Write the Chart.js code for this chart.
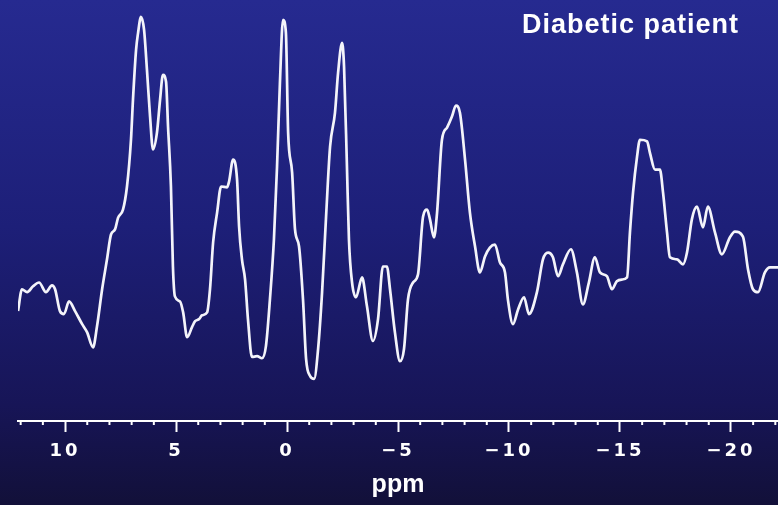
<!DOCTYPE html>
<html>
<head>
<meta charset="utf-8">
<script src="https://cdn.jsdelivr.net/npm/chart.js@4.4.0/dist/chart.umd.min.js"></script>
<style>
  html, body { margin: 0; padding: 0; }
  body {
    width: 778px; height: 505px; overflow: hidden;
    background: linear-gradient(to bottom, #262a90 0%, #1d1f78 45%, #171557 80%, #121039 100%);
  }
  canvas { display: block; }
</style>
</head>
<body>
<canvas id="spectrum" width="778" height="505"></canvas>
<script>
// chemical shift (ppm) from left to right
var ppm = [
  12.12, 11.94, 11.71, 11.44, 11.17, 10.86, 10.59, 10.45, 10.23, 10.05,
  9.82, 9.55, 9.23, 9.01, 8.74, 8.56, 8.33, 8.11, 7.93, 7.75,
  7.61, 7.39, 7.21, 7.03, 6.94, 6.80, 6.71, 6.58, 6.44, 6.31,
  6.17, 6.04, 5.86, 5.72, 5.59, 5.45, 5.36, 5.23, 5.14, 5.05,
  4.82, 4.68, 4.50, 4.28, 4.14, 3.96, 3.83, 3.60, 3.47, 3.33,
  3.15, 2.97, 2.70, 2.61, 2.43, 2.25, 2.16, 2.03, 1.89, 1.76,
  1.58, 1.35, 1.13, 0.95, 0.77, 0.59, 0.45, 0.32, 0.18, 0.05,
  -0.05, -0.23, -0.36, -0.54, -0.72, -0.86, -1.04, -1.22, -1.40, -1.58,
  -1.76, -1.94, -2.16, -2.30, -2.48, -2.57, -2.70, -2.79, -2.93, -3.11,
  -3.38, -3.60, -3.87, -4.10, -4.32, -4.50, -4.64, -4.86, -5.09, -5.27,
  -5.45, -5.68, -5.90, -6.13, -6.31, -6.44, -6.62, -6.76, -6.98, -7.21,
  -7.43, -7.61, -7.79, -8.02, -8.24, -8.47, -8.69, -8.92, -9.14, -9.37,
  -9.59, -9.82, -9.95, -10.18, -10.41, -10.68, -10.90, -11.26, -11.53, -11.76,
  -11.98, -12.21, -12.43, -12.79, -13.06, -13.33, -13.60, -13.87, -14.10, -14.41,
  -14.64, -14.86, -15.09, -15.32, -15.45, -15.59, -15.77, -15.90, -16.22, -16.35,
  -16.58, -16.80, -16.94, -17.12, -17.25, -17.57, -17.84, -18.02, -18.24, -18.47,
  -18.74, -18.96, -19.28, -19.59, -19.95, -20.18, -20.54, -20.77, -20.99, -21.22,
  -21.53, -21.76, -22.12
];

// signal intensity (arbitrary units)
var intensity = [
  26.1, 31.3, 30.6, 32.0, 32.9, 30.6, 32.2, 31.3, 26.1, 25.4,
  28.4, 26.1, 23.0, 21.1, 17.5, 22.5, 31.3, 38.4, 44.3, 45.5,
  48.3, 50.2, 55.7, 66.8, 76.3, 88.2, 92.2, 96.0, 92.9, 83.4,
  72.3, 64.5, 68.5, 76.3, 82.2, 80.6, 69.9, 55.7, 36.7, 29.6,
  28.4, 25.8, 19.9, 22.3, 23.7, 24.2, 25.1, 25.8, 31.3, 42.4,
  49.5, 55.7, 55.5, 56.9, 62.1, 57.3, 46.2, 38.4, 33.6, 24.2,
  15.2, 15.4, 14.9, 17.8, 28.9, 43.1, 60.4, 80.3, 95.3, 92.2,
  68.5, 59.0, 45.5, 41.5, 28.9, 14.7, 10.7, 10.0, 17.1, 30.6,
  48.6, 65.2, 73.2, 82.7, 89.8, 84.1, 60.4, 43.1, 32.9, 29.4,
  34.1, 27.3, 19.0, 24.2, 36.7, 36.7, 31.3, 21.1, 14.2, 17.1,
  28.9, 32.9, 34.8, 48.6, 50.2, 47.9, 43.6, 49.5, 66.8, 69.7,
  72.3, 74.9, 73.2, 62.1, 49.5, 41.5, 35.3, 39.1, 41.2, 41.9,
  37.7, 35.3, 28.9, 23.0, 26.5, 29.4, 25.4, 30.6, 38.4, 40.0,
  38.9, 34.4, 37.2, 40.8, 35.3, 27.7, 32.9, 38.9, 35.3, 34.4,
  31.3, 33.2, 33.6, 34.1, 44.8, 54.3, 62.8, 66.8, 66.4, 63.7,
  59.7, 59.7, 54.3, 44.8, 38.9, 38.4, 37.2, 40.0, 47.9, 50.9,
  46.0, 50.9, 44.8, 39.6, 43.6, 45.0, 43.8, 36.0, 31.3, 30.6,
  35.3, 36.5, 36.5
];

var tickValues = [10, 5, 0, -5, -10, -15, -20];
var axisLabel = 'ppm';
var chartTitle = 'Diabetic patient';

var points = ppm.map(function(p, i) {
  return { x: p, y: intensity[i] };
});

var extras = {
  id: 'extras',
  beforeDraw: function(chart) {
    // the tick numbers are widely spaced in the original
    chart.ctx.letterSpacing = '3px';
  },
  afterDraw: function(chart) {
    var ctx = chart.ctx;
    var xs = chart.scales.x;
    ctx.save();
    ctx.letterSpacing = '0px';
    // minor ticks every 1 ppm
    ctx.strokeStyle = '#ffffff';
    ctx.lineWidth = 2;
    for (var v = -22; v <= 12; v++) {
      if (v % 5 === 0) continue;
      var px = xs.getPixelForValue(v);
      ctx.beginPath();
      ctx.moveTo(px, xs.top);
      ctx.lineTo(px, xs.top + 4);
      ctx.stroke();
    }
    ctx.fillStyle = '#ffffff';
    ctx.textBaseline = 'alphabetic';
    // axis name
    ctx.font = 'bold 25px "Liberation Sans", Arial, sans-serif';
    ctx.textAlign = 'center';
    ctx.fillText(axisLabel, (xs.left + xs.right) / 2, 492);
    // title, top right
    ctx.letterSpacing = '1px';
    ctx.font = 'bold 27px "Liberation Sans", Arial, sans-serif';
    ctx.textAlign = 'right';
    ctx.fillText(chartTitle, 739, 33);
    ctx.restore();
  }
};

new Chart(document.getElementById('spectrum').getContext('2d'), {
  type: 'line',
  data: {
    datasets: [{
      data: points,
      borderColor: '#f4f4fa',
      borderWidth: 2.7,
      pointRadius: 0,
      cubicInterpolationMode: 'monotone',
      fill: false
    }]
  },
  options: {
    responsive: false,
    animation: false,
    events: [],
    layout: { padding: { left: 18, right: 0, top: 0, bottom: 0 } },
    plugins: { legend: { display: false }, tooltip: { enabled: false } },
    scales: {
      x: {
        type: 'linear',
        reverse: true,
        min: -22.12,
        max: 12.12,
        afterFit: function(scale) { scale.height = 84; },
        afterBuildTicks: function(scale) {
          scale.ticks = tickValues.map(function(v) { return { value: v }; });
        },
        border: { display: true, color: '#ffffff', width: 2 },
        grid: {
          display: true,
          drawOnChartArea: false,
          drawTicks: true,
          tickLength: 11,
          tickWidth: 2,
          tickColor: '#ffffff'
        },
        ticks: {
          color: '#ffffff',
          padding: 9,
          maxRotation: 0,
          callback: function(value) {
            return value < 0 ? '\u2212' + Math.abs(value) : String(value);
          },
          font: { family: '"DejaVu Sans", sans-serif', size: 18, weight: 'bold' }
        },
        title: { display: false }
      },
      y: {
        display: false,
        min: 0,
        max: 100
      }
    }
  },
  plugins: [extras]
});
</script>
</body>
</html>
